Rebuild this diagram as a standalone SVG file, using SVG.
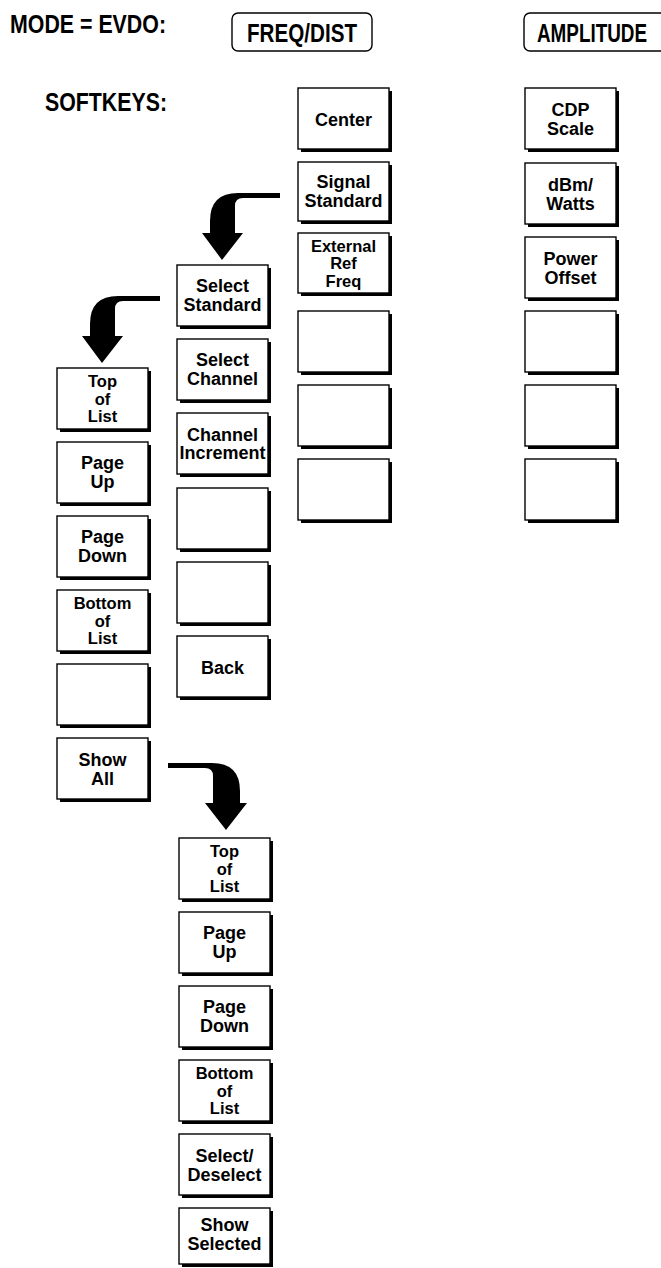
<svg xmlns="http://www.w3.org/2000/svg" width="661" height="1268" viewBox="0 0 661 1268">
<style>
text{font-family:"Liberation Sans",Arial,sans-serif;font-weight:bold;fill:#000}
.h{font-size:26px}
.l{text-anchor:middle;font-size:18px}
.t3{font-size:16.5px}
.k{fill:#fff;stroke:#000;stroke-width:1.4}
.s{fill:#000}
.hk{fill:#fff;stroke:#000;stroke-width:1.4}
.ar{fill:#000}
</style>
<defs>
<g id="key"><rect class="s" x="3" y="3" width="91" height="61"/><rect class="k" x="0" y="0" width="91" height="61"/></g>
</defs>
<g id="header">
<text class="h" x="10" y="33" textLength="156" lengthAdjust="spacingAndGlyphs">MODE = EVDO:</text>
<text class="h" x="45" y="111" textLength="122" lengthAdjust="spacingAndGlyphs">SOFTKEYS:</text>
</g>
<g id="hk-freq"><rect class="hk" x="232" y="13" width="140" height="38" rx="6"/><text class="h" x="247" y="42" textLength="110" lengthAdjust="spacingAndGlyphs">FREQ/DIST</text></g>
<g id="hk-amp"><rect class="hk" x="524" y="13" width="170" height="38" rx="6"/><text transform="translate(537,42) scale(1,1.22)" x="0" y="0" font-size="21" textLength="110" lengthAdjust="spacingAndGlyphs">AMPLITUDE</text></g>

<g id="connectors">
<path class="ar" d="M280,193 L238,193 Q210,193 210,221 L210,233 L202,233 L222,260 L243,233 L235,233 L235,206 Q235,198 243,198 L280,198 Z"/>
<path class="ar" d="M160,296 L118,296 Q90,296 90,324 L90,336 L82,336 L102,363 L123,336 L115,336 L115,309 Q115,301 123,301 L160,301 Z"/>
<path class="ar" d="M168,763 L212,763 Q240,763 240,791 L240,803 L247,803 L226,830 L205,803 L213,803 L213,776 Q213,768 205,768 L168,768 Z"/>
</g>

<!-- FREQ/DIST column -->
<g id="f1"><use href="#key" x="298" y="88"/><text class="l" x="343.5" y="126" font-size="20">Center</text></g>
<g id="f2"><rect class="s" x="301" y="165" width="91" height="59"/><rect class="k" x="298" y="162" width="91" height="59"/><text class="l" x="343.5" y="188.4">Signal<tspan x="343.5" y="207.4">Standard</tspan></text></g>
<g id="f3"><rect class="s" x="301" y="236" width="91" height="60"/><rect class="k" x="298" y="233" width="91" height="60"/><text class="l t3" x="343.5" y="251.5">External<tspan x="343.5" y="269">Ref</tspan><tspan x="343.5" y="286.5">Freq</tspan></text></g>
<g id="f4"><use href="#key" x="298" y="311"/></g>
<g id="f5"><use href="#key" x="298" y="385"/></g>
<g id="f6"><use href="#key" x="298" y="459"/></g>

<!-- AMPLITUDE column -->
<g id="a1"><use href="#key" x="525" y="88"/><text class="l" x="570.5" y="116.2" font-size="20">CDP<tspan x="570.5" y="135.2">Scale</tspan></text></g>
<g id="a2"><use href="#key" x="525" y="163"/><text class="l" x="570.5" y="190.8" font-size="19">dBm/<tspan x="570.5" y="209.8">Watts</tspan></text></g>
<g id="a3"><use href="#key" x="525" y="237"/><text class="l" x="570.5" y="264.8" font-size="19">Power<tspan x="570.5" y="283.8">Offset</tspan></text></g>
<g id="a4"><use href="#key" x="525" y="311"/></g>
<g id="a5"><use href="#key" x="525" y="385"/></g>
<g id="a6"><use href="#key" x="525" y="459"/></g>

<!-- Signal Standard submenu -->
<g id="m1"><use href="#key" x="177" y="265"/><text class="l" x="222.5" y="292.4">Select<tspan x="222.5" y="311.4">Standard</tspan></text></g>
<g id="m2"><use href="#key" x="177" y="339"/><text class="l" x="222.5" y="366.4">Select<tspan x="222.5" y="385.4">Channel</tspan></text></g>
<g id="m3"><use href="#key" x="177" y="413"/><text class="l" x="222.5" y="440.8" font-size="17.5">Channel<tspan x="222.5" y="458.8">Increment</tspan></text></g>
<g id="m4"><use href="#key" x="177" y="488"/></g>
<g id="m5"><use href="#key" x="177" y="562"/></g>
<g id="m6"><use href="#key" x="177" y="636"/><text class="l" x="222.5" y="674" font-size="21">Back</text></g>

<!-- Select Standard submenu -->
<g id="l1"><use href="#key" x="57" y="368"/><text class="l t3" x="102.5" y="387" font-size="18">Top<tspan x="102.5" y="404.5">of</tspan><tspan x="102.5" y="422">List</tspan></text></g>
<g id="l2"><use href="#key" x="57" y="442"/><text class="l" x="102.5" y="469.4">Page<tspan x="102.5" y="488.4">Up</tspan></text></g>
<g id="l3"><use href="#key" x="57" y="516"/><text class="l" x="102.5" y="543.4">Page<tspan x="102.5" y="562.4">Down</tspan></text></g>
<g id="l4"><use href="#key" x="57" y="590"/><text class="l t3" x="102.5" y="609">Bottom<tspan x="102.5" y="626.5">of</tspan><tspan x="102.5" y="644">List</tspan></text></g>
<g id="l5"><use href="#key" x="57" y="664"/></g>
<g id="l6"><use href="#key" x="57" y="738"/><text class="l" x="102.5" y="765.7" font-size="20">Show<tspan x="102.5" y="784.7">All</tspan></text></g>

<!-- Show All submenu -->
<g id="b1"><use href="#key" x="179" y="838"/><text class="l t3" x="224.5" y="857" font-size="18">Top<tspan x="224.5" y="874.5">of</tspan><tspan x="224.5" y="892">List</tspan></text></g>
<g id="b2"><use href="#key" x="179" y="912"/><text class="l" x="224.5" y="939.4">Page<tspan x="224.5" y="958.4">Up</tspan></text></g>
<g id="b3"><use href="#key" x="179" y="986"/><text class="l" x="224.5" y="1013.4">Page<tspan x="224.5" y="1032.4">Down</tspan></text></g>
<g id="b4"><use href="#key" x="179" y="1060"/><text class="l t3" x="224.5" y="1079">Bottom<tspan x="224.5" y="1096.5">of</tspan><tspan x="224.5" y="1114">List</tspan></text></g>
<g id="b5"><use href="#key" x="179" y="1134"/><text class="l" x="224.5" y="1161.8" font-size="19">Select/<tspan x="224.5" y="1180.8">Deselect</tspan></text></g>
<g id="b6"><rect class="s" x="182" y="1211" width="91" height="56"/><rect class="k" x="179" y="1208" width="91" height="56"/><text class="l" x="224.5" y="1231.3" font-size="19">Show<tspan x="224.5" y="1250.3">Selected</tspan></text></g>
</svg>
